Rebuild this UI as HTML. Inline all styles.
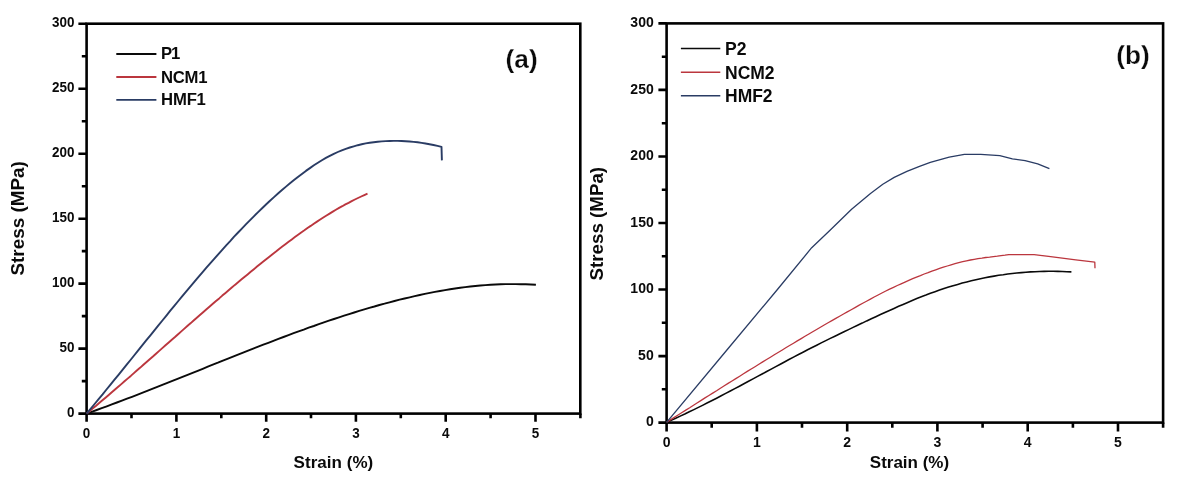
<!DOCTYPE html>
<html lang="en"><head><meta charset="utf-8"><title>Stress-strain curves</title>
<style>
html,body{margin:0;padding:0;background:#fff;}
body{width:1187px;height:477px;overflow:hidden;}
svg{display:block;}
text{font-family:"Liberation Sans",Arial,Helvetica,sans-serif;font-weight:700;fill:#0a0a0a;}
.tk text{font-size:14px;}
.lg text{font-size:16.7px;}
.lg text.lb{font-size:17.5px;}
.at{font-size:17px;}
.vt{font-size:17.6px;}
.pl{font-size:26.2px;stroke:#fff;stroke-width:0.25px;paint-order:fill stroke;}
</style></head><body>
<svg width="1187" height="477" viewBox="0 0 1187 477">
<rect width="1187" height="477" fill="#fff"/>
<rect x="86.6" y="23.7" width="493.7" height="389.9" fill="none" stroke="#000" stroke-width="2.6"/>
<path d="M78.4,413.6H86.6M81.8,381.1H86.6M78.4,348.6H86.6M81.8,316.1H86.6M78.4,283.6H86.6M81.8,251.1H86.6M78.4,218.7H86.6M81.8,186.2H86.6M78.4,153.7H86.6M81.8,121.2H86.6M78.4,88.7H86.6M81.8,56.2H86.6M78.4,23.7H86.6M86.6,413.6V421.7M131.5,413.6V418.2M176.4,413.6V421.7M221.3,413.6V418.2M266.2,413.6V421.7M311.0,413.6V418.2M355.9,413.6V421.7M400.8,413.6V418.2M445.7,413.6V421.7M490.6,413.6V418.2M535.5,413.6V421.7M580.4,413.6V418.2" stroke="#000" stroke-width="2.6" fill="none" stroke-linecap="butt"/>
<g class="tk" text-anchor="end">
<text transform="translate(74.5,417.1) scale(0.96,1)">0</text>
<text transform="translate(74.5,352.1) scale(0.96,1)">50</text>
<text transform="translate(74.5,287.1) scale(0.96,1)">100</text>
<text transform="translate(74.5,222.2) scale(0.96,1)">150</text>
<text transform="translate(74.5,157.2) scale(0.96,1)">200</text>
<text transform="translate(74.5,92.2) scale(0.96,1)">250</text>
<text transform="translate(74.5,27.2) scale(0.96,1)">300</text>
</g>
<g class="tk" text-anchor="middle">
<text transform="translate(86.6,437.7) scale(0.96,1)">0</text>
<text transform="translate(176.4,437.7) scale(0.96,1)">1</text>
<text transform="translate(266.2,437.7) scale(0.96,1)">2</text>
<text transform="translate(355.9,437.7) scale(0.96,1)">3</text>
<text transform="translate(445.7,437.7) scale(0.96,1)">4</text>
<text transform="translate(535.5,437.7) scale(0.96,1)">5</text>
</g>
<rect x="666.6" y="23.4" width="496.5" height="399.2" fill="none" stroke="#000" stroke-width="2.6"/>
<path d="M658.4,422.6H666.6M661.8,389.3H666.6M658.4,356.1H666.6M661.8,322.8H666.6M658.4,289.5H666.6M661.8,256.3H666.6M658.4,223.0H666.6M661.8,189.7H666.6M658.4,156.5H666.6M661.8,123.2H666.6M658.4,89.9H666.6M661.8,56.7H666.6M658.4,23.4H666.6M666.6,422.6V431.5M711.7,422.6V427.7M756.9,422.6V431.5M802.0,422.6V427.7M847.2,422.6V431.5M892.3,422.6V427.7M937.4,422.6V431.5M982.6,422.6V427.7M1027.7,422.6V431.5M1072.9,422.6V427.7M1118.0,422.6V431.5M1163.1,422.6V427.7" stroke="#000" stroke-width="2.6" fill="none" stroke-linecap="butt"/>
<g class="tk" text-anchor="end">
<text transform="translate(653.7,426.4) scale(1.0,1)">0</text>
<text transform="translate(653.7,359.9) scale(1.0,1)">50</text>
<text transform="translate(653.7,293.3) scale(1.0,1)">100</text>
<text transform="translate(653.7,226.8) scale(1.0,1)">150</text>
<text transform="translate(653.7,160.3) scale(1.0,1)">200</text>
<text transform="translate(653.7,93.7) scale(1.0,1)">250</text>
<text transform="translate(653.7,27.2) scale(1.0,1)">300</text>
</g>
<g class="tk" text-anchor="middle">
<text transform="translate(666.6,447.3) scale(1.0,1)">0</text>
<text transform="translate(756.9,447.3) scale(1.0,1)">1</text>
<text transform="translate(847.2,447.3) scale(1.0,1)">2</text>
<text transform="translate(937.4,447.3) scale(1.0,1)">3</text>
<text transform="translate(1027.7,447.3) scale(1.0,1)">4</text>
<text transform="translate(1118.0,447.3) scale(1.0,1)">5</text>
</g>
<g fill="none" stroke-width="1.9" stroke-linejoin="round">
<path d="M86.6,413.6 L91.6,411.8 L96.7,410.0 L101.7,408.2 L106.8,406.3 L111.8,404.4 L116.9,402.5 L121.9,400.6 L127.0,398.7 L132.0,396.8 L137.1,394.8 L142.1,392.9 L147.2,390.9 L152.2,388.9 L157.3,386.9 L162.3,384.9 L167.4,382.9 L172.4,380.9 L177.5,378.9 L182.5,376.9 L187.6,374.8 L192.6,372.8 L197.7,370.8 L202.7,368.8 L207.8,366.7 L212.8,364.7 L217.9,362.7 L222.9,360.6 L228.0,358.6 L233.0,356.6 L238.0,354.6 L243.1,352.6 L248.1,350.6 L253.2,348.6 L258.2,346.7 L263.3,344.7 L268.3,342.8 L273.4,340.8 L278.4,338.9 L283.5,337.0 L288.5,335.1 L293.6,333.2 L298.6,331.4 L303.7,329.6 L308.7,327.7 L313.8,326.0 L318.8,324.2 L323.9,322.4 L328.9,320.7 L334.0,319.0 L339.0,317.4 L344.1,315.7 L349.1,314.1 L354.2,312.5 L359.2,310.9 L364.3,309.4 L369.3,307.9 L374.4,306.5 L379.4,305.0 L384.5,303.7 L389.5,302.3 L394.5,301.0 L399.6,299.7 L404.6,298.5 L409.7,297.3 L414.7,296.1 L419.8,295.0 L424.8,293.9 L429.9,292.9 L434.9,291.9 L440.0,291.0 L445.0,290.1 L450.1,289.3 L455.1,288.5 L460.2,287.8 L465.2,287.1 L470.3,286.5 L475.3,286.0 L480.4,285.5 L485.4,285.1 L490.5,284.8 L495.5,284.5 L500.6,284.3 L505.6,284.1 L510.7,284.1 L515.7,284.1 L520.8,284.2 L525.8,284.3 L530.9,284.5 L535.9,284.8" stroke="#0a0a0a"/>
<path d="M86.6,413.6 L89.8,411.0 L92.9,408.3 L96.1,405.7 L99.2,403.0 L102.4,400.3 L105.5,397.7 L108.7,395.0 L111.8,392.3 L115.0,389.5 L118.2,386.8 L121.3,384.1 L124.5,381.3 L127.6,378.6 L130.8,375.9 L133.9,373.1 L137.1,370.3 L140.3,367.6 L143.4,364.8 L146.6,362.0 L149.7,359.2 L152.9,356.5 L156.0,353.7 L159.2,350.9 L162.3,348.1 L165.5,345.3 L168.7,342.5 L171.8,339.7 L175.0,337.0 L178.1,334.2 L181.3,331.4 L184.4,328.6 L187.6,325.8 L190.8,323.1 L193.9,320.3 L197.1,317.5 L200.2,314.8 L203.4,312.0 L206.5,309.3 L209.7,306.5 L212.8,303.8 L216.0,301.1 L219.2,298.4 L222.3,295.6 L225.5,292.9 L228.6,290.3 L231.8,287.6 L234.9,284.9 L238.1,282.3 L241.3,279.6 L244.4,277.0 L247.6,274.4 L250.7,271.8 L253.9,269.2 L257.0,266.6 L260.2,264.0 L263.3,261.5 L266.5,258.9 L269.7,256.4 L272.8,253.9 L276.0,251.5 L279.1,249.0 L282.3,246.6 L285.4,244.2 L288.6,241.8 L291.8,239.4 L294.9,237.1 L298.1,234.8 L301.2,232.5 L304.4,230.3 L307.5,228.0 L310.7,225.9 L313.8,223.7 L317.0,221.6 L320.2,219.5 L323.3,217.5 L326.5,215.5 L329.6,213.6 L332.8,211.6 L335.9,209.8 L339.1,207.9 L342.3,206.2 L345.4,204.4 L348.6,202.8 L351.7,201.1 L354.9,199.5 L358.0,198.0 L361.2,196.5 L364.3,195.1 L367.5,193.7" stroke="#bb363e"/>
<path d="M86.6,413.6 L90.6,408.8 L94.6,404.0 L98.6,399.2 L102.6,394.4 L106.5,389.5 L110.5,384.6 L114.5,379.7 L118.5,374.8 L122.5,369.9 L126.5,364.9 L130.5,360.0 L134.5,355.0 L138.4,350.1 L142.4,345.2 L146.4,340.2 L150.4,335.3 L154.4,330.3 L158.4,325.4 L162.4,320.5 L166.4,315.6 L170.3,310.7 L174.3,305.9 L178.3,301.0 L182.3,296.2 L186.3,291.4 L190.3,286.7 L194.3,281.9 L198.3,277.2 L202.2,272.6 L206.2,267.9 L210.2,263.3 L214.2,258.8 L218.2,254.3 L222.2,249.8 L226.2,245.4 L230.2,241.1 L234.1,236.7 L238.1,232.5 L242.1,228.3 L246.1,224.2 L250.1,220.1 L254.1,216.1 L258.1,212.1 L262.1,208.3 L266.0,204.5 L270.0,200.7 L274.0,197.1 L278.0,193.5 L282.0,190.0 L286.0,186.6 L290.0,183.3 L294.0,180.1 L297.9,176.9 L301.9,173.9 L305.9,170.9 L309.9,168.1 L313.9,165.3 L317.9,162.7 L321.9,160.2 L325.9,157.9 L329.8,155.8 L333.8,153.8 L337.8,152.0 L341.8,150.3 L345.8,148.8 L349.8,147.5 L353.8,146.3 L357.8,145.2 L361.7,144.3 L365.7,143.4 L369.7,142.8 L373.7,142.2 L377.7,141.7 L381.7,141.4 L385.7,141.1 L389.7,141.0 L393.6,140.9 L397.6,140.9 L401.6,141.0 L405.6,141.2 L409.6,141.5 L413.6,141.9 L417.6,142.3 L421.6,142.9 L425.5,143.5 L429.5,144.2 L433.5,145.0 L437.5,145.9 L441.5,146.9 L441.9,160.4" stroke="#2a3c64"/>
</g>
<g fill="none" stroke-width="1.3" stroke-linejoin="round">
<path d="M666.6,422.3 L671.1,420.3 L675.7,418.2 L680.2,416.1 L684.8,414.0 L689.3,411.8 L693.9,409.6 L698.4,407.4 L703.0,405.1 L707.5,402.8 L712.1,400.5 L716.6,398.2 L721.2,395.8 L725.7,393.4 L730.3,391.0 L734.8,388.6 L739.4,386.2 L743.9,383.8 L748.5,381.3 L753.0,378.9 L757.6,376.4 L762.1,374.0 L766.7,371.5 L771.2,369.1 L775.8,366.6 L780.3,364.2 L784.9,361.7 L789.4,359.3 L794.0,356.9 L798.5,354.5 L803.0,352.2 L807.6,349.8 L812.1,347.5 L816.7,345.2 L821.2,342.9 L825.8,340.6 L830.3,338.4 L834.9,336.2 L839.4,334.0 L844.0,331.8 L848.5,329.6 L853.1,327.4 L857.6,325.2 L862.2,323.1 L866.7,320.9 L871.3,318.8 L875.8,316.7 L880.4,314.6 L884.9,312.5 L889.5,310.4 L894.0,308.4 L898.6,306.3 L903.1,304.4 L907.7,302.4 L912.2,300.5 L916.8,298.6 L921.3,296.8 L925.9,295.1 L930.4,293.3 L935.0,291.7 L939.5,290.1 L944.0,288.6 L948.6,287.1 L953.1,285.7 L957.7,284.4 L962.2,283.1 L966.8,281.9 L971.3,280.8 L975.9,279.7 L980.4,278.7 L985.0,277.8 L989.5,276.9 L994.1,276.1 L998.6,275.3 L1003.2,274.7 L1007.7,274.0 L1012.3,273.5 L1016.8,273.0 L1021.4,272.6 L1025.9,272.2 L1030.5,271.9 L1035.0,271.7 L1039.6,271.5 L1044.1,271.4 L1048.7,271.3 L1053.2,271.3 L1057.8,271.4 L1062.3,271.5 L1066.9,271.7 L1071.4,271.9" stroke="#0a0a0a" stroke-width="1.6"/>
<path d="M666.6,422.3 L670.4,419.9 L674.3,417.4 L678.1,415.0 L682.0,412.5 L685.8,410.1 L689.7,407.7 L693.5,405.2 L697.4,402.8 L701.2,400.4 L705.0,397.9 L708.9,395.5 L712.7,393.1 L716.6,390.7 L720.4,388.2 L724.3,385.8 L728.1,383.4 L732.0,381.0 L735.8,378.6 L739.7,376.2 L743.5,373.8 L747.3,371.4 L751.2,369.0 L755.0,366.7 L758.9,364.3 L762.7,361.9 L766.6,359.5 L770.4,357.2 L774.3,354.8 L778.1,352.5 L781.9,350.2 L785.8,347.8 L789.6,345.5 L793.5,343.2 L797.3,340.9 L801.2,338.6 L805.0,336.3 L808.9,334.0 L812.7,331.8 L816.6,329.5 L820.4,327.3 L824.2,325.0 L828.1,322.8 L831.9,320.6 L835.8,318.4 L839.6,316.2 L843.5,314.0 L847.3,311.9 L851.2,309.7 L855.0,307.6 L858.8,305.4 L862.7,303.3 L866.5,301.2 L870.4,299.1 L874.2,297.0 L878.1,295.0 L881.9,293.0 L885.8,291.0 L889.6,289.1 L893.5,287.3 L897.3,285.5 L901.1,283.8 L905.0,282.1 L908.8,280.4 L912.7,278.7 L916.5,277.1 L920.4,275.6 L924.2,274.0 L928.1,272.6 L931.9,271.1 L935.7,269.8 L939.6,268.4 L943.4,267.2 L947.3,266.0 L951.1,264.8 L955.0,263.7 L958.8,262.7 L962.7,261.7 L966.5,260.8 L970.4,260.0 L974.2,259.3 L978.0,258.6 L981.9,258.1 L985.7,257.5 L989.6,257.1 L993.4,256.6 L997.3,256.2 L1001.1,255.7 L1005.0,255.2 L1008.8,254.6 L1034.1,254.6 L1050.6,256.7 L1075.8,259.9 L1094.8,262.2 L1095.0,268.2" stroke="#bb363e"/>
<path d="M666.6,422.3 L726.9,350.0 L777.0,290.0 L811.7,247.7 L830.3,230.0 L851.6,209.2 L870.5,193.4 L882.8,184.3 L894.2,177.4 L906.9,171.4 L919.5,166.3 L930.3,162.3 L949.2,157.2 L964.4,154.3 L980.8,154.4 L999.8,155.6 L1012.4,158.9 L1025.1,160.6 L1037.7,163.9 L1049.4,168.6" stroke="#2a3c64"/>
</g>
<g stroke-width="1.9"><path d="M116.3,54.0H156.4" stroke="#0a0a0a"/><path d="M116.3,77.0H156.4" stroke="#bb363e"/><path d="M116.3,99.9H156.4" stroke="#2a3c64"/></g>
<g stroke-width="1.5"><path d="M680.9,48.5H720.3" stroke="#0a0a0a"/><path d="M680.9,72.3H720.3" stroke="#bb363e"/><path d="M680.9,95.8H720.3" stroke="#2a3c64"/></g>
<g class="lg">
<text x="161.1" y="59.3" textLength="19.2" lengthAdjust="spacing">P1</text>
<text x="161.1" y="82.5" textLength="46.4" lengthAdjust="spacing">NCM1</text>
<text x="161.1" y="105.4" textLength="44.8" lengthAdjust="spacing">HMF1</text>
<text class="lb" x="725" y="55.3" textLength="21.5" lengthAdjust="spacingAndGlyphs">P2</text>
<text class="lb" x="725" y="78.8" textLength="49.6" lengthAdjust="spacingAndGlyphs">NCM2</text>
<text class="lb" x="725" y="101.9" textLength="47.6" lengthAdjust="spacingAndGlyphs">HMF2</text>
</g>
<text class="pl" x="505.6" y="68">(a)</text>
<text class="pl" x="1116.2" y="64">(b)</text>
<text class="at" x="293.6" y="467.6" textLength="79.6" lengthAdjust="spacing">Strain (%)</text>
<text class="at" x="869.8" y="467.6" textLength="79.3" lengthAdjust="spacing">Strain (%)</text>
<text class="at vt" transform="translate(24.1,275.6) rotate(-90)" textLength="114.4" lengthAdjust="spacingAndGlyphs">Stress (MPa)</text>
<text class="at vt" transform="translate(602.9,280.5) rotate(-90)" textLength="113.6" lengthAdjust="spacingAndGlyphs">Stress (MPa)</text>
</svg>
</body></html>
